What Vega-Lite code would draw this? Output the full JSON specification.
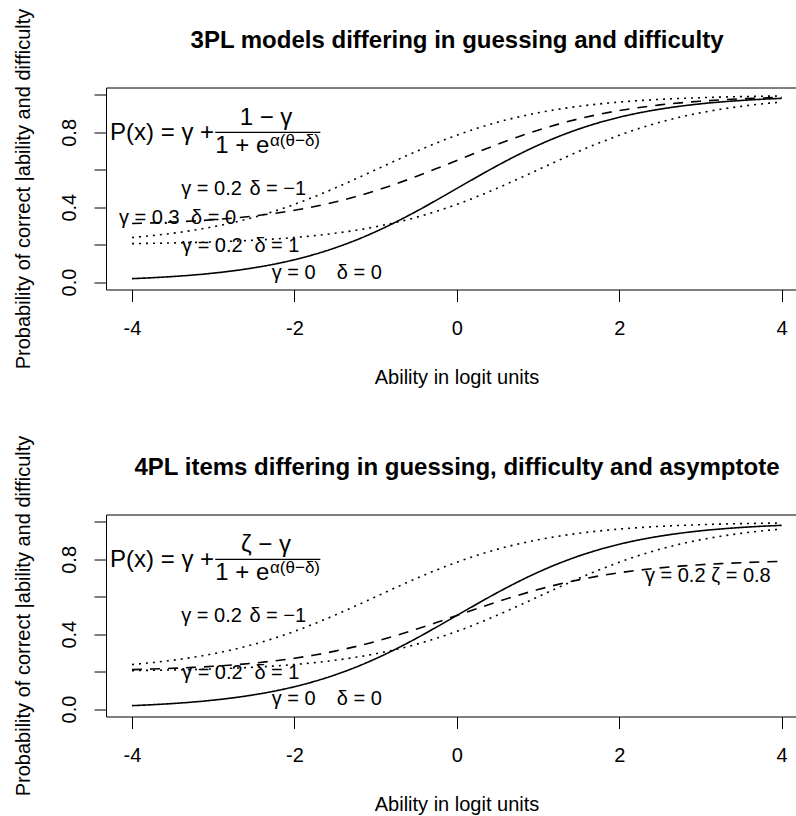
{
"$schema": "https://vega.github.io/schema/vega-lite/v6.json",
"background": "white",
"padding": {"left": 12, "top": 7.5, "right": 0, "bottom": 0},
"spacing": 225,
"bounds": "flush",
"config": {"view": {"stroke": null}, "font": "Liberation Sans", "text": {"font": "Liberation Sans", "color": "black"}},
"datasets": {
"c3": [
{"theta":-4,"p":0.0180,"curve":"γ=0 δ=0"},{"theta":-3.75,"p":0.0230,"curve":"γ=0 δ=0"},{"theta":-3.5,"p":0.0293,"curve":"γ=0 δ=0"},{"theta":-3.25,"p":0.0373,"curve":"γ=0 δ=0"},{"theta":-3,"p":0.0474,"curve":"γ=0 δ=0"},{"theta":-2.75,"p":0.0601,"curve":"γ=0 δ=0"},{"theta":-2.5,"p":0.0759,"curve":"γ=0 δ=0"},{"theta":-2.25,"p":0.0953,"curve":"γ=0 δ=0"},{"theta":-2,"p":0.1192,"curve":"γ=0 δ=0"},{"theta":-1.75,"p":0.1480,"curve":"γ=0 δ=0"},{"theta":-1.5,"p":0.1824,"curve":"γ=0 δ=0"},{"theta":-1.25,"p":0.2227,"curve":"γ=0 δ=0"},{"theta":-1,"p":0.2689,"curve":"γ=0 δ=0"},{"theta":-0.75,"p":0.3208,"curve":"γ=0 δ=0"},{"theta":-0.5,"p":0.3775,"curve":"γ=0 δ=0"},{"theta":-0.25,"p":0.4378,"curve":"γ=0 δ=0"},{"theta":0,"p":0.5,"curve":"γ=0 δ=0"},{"theta":0.25,"p":0.5622,"curve":"γ=0 δ=0"},{"theta":0.5,"p":0.6225,"curve":"γ=0 δ=0"},{"theta":0.75,"p":0.6792,"curve":"γ=0 δ=0"},{"theta":1,"p":0.7311,"curve":"γ=0 δ=0"},{"theta":1.25,"p":0.7773,"curve":"γ=0 δ=0"},{"theta":1.5,"p":0.8176,"curve":"γ=0 δ=0"},{"theta":1.75,"p":0.8520,"curve":"γ=0 δ=0"},{"theta":2,"p":0.8808,"curve":"γ=0 δ=0"},{"theta":2.25,"p":0.9047,"curve":"γ=0 δ=0"},{"theta":2.5,"p":0.9241,"curve":"γ=0 δ=0"},{"theta":2.75,"p":0.9399,"curve":"γ=0 δ=0"},{"theta":3,"p":0.9526,"curve":"γ=0 δ=0"},{"theta":3.25,"p":0.9627,"curve":"γ=0 δ=0"},{"theta":3.5,"p":0.9707,"curve":"γ=0 δ=0"},{"theta":3.75,"p":0.9770,"curve":"γ=0 δ=0"},{"theta":4,"p":0.9820,"curve":"γ=0 δ=0"},
{"theta":-4,"p":0.3126,"curve":"γ=0.3 δ=0"},{"theta":-3.75,"p":0.3161,"curve":"γ=0.3 δ=0"},{"theta":-3.5,"p":0.3205,"curve":"γ=0.3 δ=0"},{"theta":-3.25,"p":0.3261,"curve":"γ=0.3 δ=0"},{"theta":-3,"p":0.3332,"curve":"γ=0.3 δ=0"},{"theta":-2.75,"p":0.3421,"curve":"γ=0.3 δ=0"},{"theta":-2.5,"p":0.3531,"curve":"γ=0.3 δ=0"},{"theta":-2.25,"p":0.3667,"curve":"γ=0.3 δ=0"},{"theta":-2,"p":0.3834,"curve":"γ=0.3 δ=0"},{"theta":-1.75,"p":0.4036,"curve":"γ=0.3 δ=0"},{"theta":-1.5,"p":0.4277,"curve":"γ=0.3 δ=0"},{"theta":-1.25,"p":0.4559,"curve":"γ=0.3 δ=0"},{"theta":-1,"p":0.4883,"curve":"γ=0.3 δ=0"},{"theta":-0.75,"p":0.5246,"curve":"γ=0.3 δ=0"},{"theta":-0.5,"p":0.5643,"curve":"γ=0.3 δ=0"},{"theta":-0.25,"p":0.6065,"curve":"γ=0.3 δ=0"},{"theta":0,"p":0.65,"curve":"γ=0.3 δ=0"},{"theta":0.25,"p":0.6935,"curve":"γ=0.3 δ=0"},{"theta":0.5,"p":0.7357,"curve":"γ=0.3 δ=0"},{"theta":0.75,"p":0.7754,"curve":"γ=0.3 δ=0"},{"theta":1,"p":0.8117,"curve":"γ=0.3 δ=0"},{"theta":1.25,"p":0.8441,"curve":"γ=0.3 δ=0"},{"theta":1.5,"p":0.8723,"curve":"γ=0.3 δ=0"},{"theta":1.75,"p":0.8964,"curve":"γ=0.3 δ=0"},{"theta":2,"p":0.9166,"curve":"γ=0.3 δ=0"},{"theta":2.25,"p":0.9333,"curve":"γ=0.3 δ=0"},{"theta":2.5,"p":0.9469,"curve":"γ=0.3 δ=0"},{"theta":2.75,"p":0.9579,"curve":"γ=0.3 δ=0"},{"theta":3,"p":0.9668,"curve":"γ=0.3 δ=0"},{"theta":3.25,"p":0.9739,"curve":"γ=0.3 δ=0"},{"theta":3.5,"p":0.9795,"curve":"γ=0.3 δ=0"},{"theta":3.75,"p":0.9839,"curve":"γ=0.3 δ=0"},{"theta":4,"p":0.9874,"curve":"γ=0.3 δ=0"},
{"theta":-4,"p":0.2379,"curve":"γ=0.2 δ=-1"},{"theta":-3.75,"p":0.2481,"curve":"γ=0.2 δ=-1"},{"theta":-3.5,"p":0.2607,"curve":"γ=0.2 δ=-1"},{"theta":-3.25,"p":0.2763,"curve":"γ=0.2 δ=-1"},{"theta":-3,"p":0.2954,"curve":"γ=0.2 δ=-1"},{"theta":-2.75,"p":0.3184,"curve":"γ=0.2 δ=-1"},{"theta":-2.5,"p":0.3459,"curve":"γ=0.2 δ=-1"},{"theta":-2.25,"p":0.3782,"curve":"γ=0.2 δ=-1"},{"theta":-2,"p":0.4152,"curve":"γ=0.2 δ=-1"},{"theta":-1.75,"p":0.4567,"curve":"γ=0.2 δ=-1"},{"theta":-1.5,"p":0.5020,"curve":"γ=0.2 δ=-1"},{"theta":-1.25,"p":0.5503,"curve":"γ=0.2 δ=-1"},{"theta":-1,"p":0.6,"curve":"γ=0.2 δ=-1"},{"theta":-0.75,"p":0.6497,"curve":"γ=0.2 δ=-1"},{"theta":-0.5,"p":0.6980,"curve":"γ=0.2 δ=-1"},{"theta":-0.25,"p":0.7433,"curve":"γ=0.2 δ=-1"},{"theta":0,"p":0.7848,"curve":"γ=0.2 δ=-1"},{"theta":0.25,"p":0.8218,"curve":"γ=0.2 δ=-1"},{"theta":0.5,"p":0.8541,"curve":"γ=0.2 δ=-1"},{"theta":0.75,"p":0.8816,"curve":"γ=0.2 δ=-1"},{"theta":1,"p":0.9046,"curve":"γ=0.2 δ=-1"},{"theta":1.25,"p":0.9237,"curve":"γ=0.2 δ=-1"},{"theta":1.5,"p":0.9393,"curve":"γ=0.2 δ=-1"},{"theta":1.75,"p":0.9519,"curve":"γ=0.2 δ=-1"},{"theta":2,"p":0.9621,"curve":"γ=0.2 δ=-1"},{"theta":2.25,"p":0.9701,"curve":"γ=0.2 δ=-1"},{"theta":2.5,"p":0.9766,"curve":"γ=0.2 δ=-1"},{"theta":2.75,"p":0.9816,"curve":"γ=0.2 δ=-1"},{"theta":3,"p":0.9856,"curve":"γ=0.2 δ=-1"},{"theta":3.25,"p":0.9887,"curve":"γ=0.2 δ=-1"},{"theta":3.5,"p":0.9912,"curve":"γ=0.2 δ=-1"},{"theta":3.75,"p":0.9931,"curve":"γ=0.2 δ=-1"},{"theta":4,"p":0.9946,"curve":"γ=0.2 δ=-1"},
{"theta":-4,"p":0.2054,"curve":"γ=0.2 δ=1"},{"theta":-3.75,"p":0.2069,"curve":"γ=0.2 δ=1"},{"theta":-3.5,"p":0.2088,"curve":"γ=0.2 δ=1"},{"theta":-3.25,"p":0.2113,"curve":"γ=0.2 δ=1"},{"theta":-3,"p":0.2144,"curve":"γ=0.2 δ=1"},{"theta":-2.75,"p":0.2184,"curve":"γ=0.2 δ=1"},{"theta":-2.5,"p":0.2234,"curve":"γ=0.2 δ=1"},{"theta":-2.25,"p":0.2299,"curve":"γ=0.2 δ=1"},{"theta":-2,"p":0.2379,"curve":"γ=0.2 δ=1"},{"theta":-1.75,"p":0.2481,"curve":"γ=0.2 δ=1"},{"theta":-1.5,"p":0.2607,"curve":"γ=0.2 δ=1"},{"theta":-1.25,"p":0.2763,"curve":"γ=0.2 δ=1"},{"theta":-1,"p":0.2954,"curve":"γ=0.2 δ=1"},{"theta":-0.75,"p":0.3184,"curve":"γ=0.2 δ=1"},{"theta":-0.5,"p":0.3459,"curve":"γ=0.2 δ=1"},{"theta":-0.25,"p":0.3782,"curve":"γ=0.2 δ=1"},{"theta":0,"p":0.4152,"curve":"γ=0.2 δ=1"},{"theta":0.25,"p":0.4567,"curve":"γ=0.2 δ=1"},{"theta":0.5,"p":0.5020,"curve":"γ=0.2 δ=1"},{"theta":0.75,"p":0.5503,"curve":"γ=0.2 δ=1"},{"theta":1,"p":0.6,"curve":"γ=0.2 δ=1"},{"theta":1.25,"p":0.6497,"curve":"γ=0.2 δ=1"},{"theta":1.5,"p":0.6980,"curve":"γ=0.2 δ=1"},{"theta":1.75,"p":0.7433,"curve":"γ=0.2 δ=1"},{"theta":2,"p":0.7848,"curve":"γ=0.2 δ=1"},{"theta":2.25,"p":0.8218,"curve":"γ=0.2 δ=1"},{"theta":2.5,"p":0.8541,"curve":"γ=0.2 δ=1"},{"theta":2.75,"p":0.8816,"curve":"γ=0.2 δ=1"},{"theta":3,"p":0.9046,"curve":"γ=0.2 δ=1"},{"theta":3.25,"p":0.9237,"curve":"γ=0.2 δ=1"},{"theta":3.5,"p":0.9393,"curve":"γ=0.2 δ=1"},{"theta":3.75,"p":0.9519,"curve":"γ=0.2 δ=1"},{"theta":4,"p":0.9621,"curve":"γ=0.2 δ=1"}
],
"c4": [
{"theta":-4,"p":0.0180,"curve":"γ=0 δ=0"},{"theta":-3.75,"p":0.0230,"curve":"γ=0 δ=0"},{"theta":-3.5,"p":0.0293,"curve":"γ=0 δ=0"},{"theta":-3.25,"p":0.0373,"curve":"γ=0 δ=0"},{"theta":-3,"p":0.0474,"curve":"γ=0 δ=0"},{"theta":-2.75,"p":0.0601,"curve":"γ=0 δ=0"},{"theta":-2.5,"p":0.0759,"curve":"γ=0 δ=0"},{"theta":-2.25,"p":0.0953,"curve":"γ=0 δ=0"},{"theta":-2,"p":0.1192,"curve":"γ=0 δ=0"},{"theta":-1.75,"p":0.1480,"curve":"γ=0 δ=0"},{"theta":-1.5,"p":0.1824,"curve":"γ=0 δ=0"},{"theta":-1.25,"p":0.2227,"curve":"γ=0 δ=0"},{"theta":-1,"p":0.2689,"curve":"γ=0 δ=0"},{"theta":-0.75,"p":0.3208,"curve":"γ=0 δ=0"},{"theta":-0.5,"p":0.3775,"curve":"γ=0 δ=0"},{"theta":-0.25,"p":0.4378,"curve":"γ=0 δ=0"},{"theta":0,"p":0.5,"curve":"γ=0 δ=0"},{"theta":0.25,"p":0.5622,"curve":"γ=0 δ=0"},{"theta":0.5,"p":0.6225,"curve":"γ=0 δ=0"},{"theta":0.75,"p":0.6792,"curve":"γ=0 δ=0"},{"theta":1,"p":0.7311,"curve":"γ=0 δ=0"},{"theta":1.25,"p":0.7773,"curve":"γ=0 δ=0"},{"theta":1.5,"p":0.8176,"curve":"γ=0 δ=0"},{"theta":1.75,"p":0.8520,"curve":"γ=0 δ=0"},{"theta":2,"p":0.8808,"curve":"γ=0 δ=0"},{"theta":2.25,"p":0.9047,"curve":"γ=0 δ=0"},{"theta":2.5,"p":0.9241,"curve":"γ=0 δ=0"},{"theta":2.75,"p":0.9399,"curve":"γ=0 δ=0"},{"theta":3,"p":0.9526,"curve":"γ=0 δ=0"},{"theta":3.25,"p":0.9627,"curve":"γ=0 δ=0"},{"theta":3.5,"p":0.9707,"curve":"γ=0 δ=0"},{"theta":3.75,"p":0.9770,"curve":"γ=0 δ=0"},{"theta":4,"p":0.9820,"curve":"γ=0 δ=0"},
{"theta":-4,"p":0.2108,"curve":"γ=0.2 ζ=0.8"},{"theta":-3.75,"p":0.2138,"curve":"γ=0.2 ζ=0.8"},{"theta":-3.5,"p":0.2176,"curve":"γ=0.2 ζ=0.8"},{"theta":-3.25,"p":0.2224,"curve":"γ=0.2 ζ=0.8"},{"theta":-3,"p":0.2285,"curve":"γ=0.2 ζ=0.8"},{"theta":-2.75,"p":0.2361,"curve":"γ=0.2 ζ=0.8"},{"theta":-2.5,"p":0.2455,"curve":"γ=0.2 ζ=0.8"},{"theta":-2.25,"p":0.2572,"curve":"γ=0.2 ζ=0.8"},{"theta":-2,"p":0.2715,"curve":"γ=0.2 ζ=0.8"},{"theta":-1.75,"p":0.2888,"curve":"γ=0.2 ζ=0.8"},{"theta":-1.5,"p":0.3095,"curve":"γ=0.2 ζ=0.8"},{"theta":-1.25,"p":0.3336,"curve":"γ=0.2 ζ=0.8"},{"theta":-1,"p":0.3614,"curve":"γ=0.2 ζ=0.8"},{"theta":-0.75,"p":0.3925,"curve":"γ=0.2 ζ=0.8"},{"theta":-0.5,"p":0.4265,"curve":"γ=0.2 ζ=0.8"},{"theta":-0.25,"p":0.4627,"curve":"γ=0.2 ζ=0.8"},{"theta":0,"p":0.5,"curve":"γ=0.2 ζ=0.8"},{"theta":0.25,"p":0.5373,"curve":"γ=0.2 ζ=0.8"},{"theta":0.5,"p":0.5735,"curve":"γ=0.2 ζ=0.8"},{"theta":0.75,"p":0.6075,"curve":"γ=0.2 ζ=0.8"},{"theta":1,"p":0.6386,"curve":"γ=0.2 ζ=0.8"},{"theta":1.25,"p":0.6664,"curve":"γ=0.2 ζ=0.8"},{"theta":1.5,"p":0.6905,"curve":"γ=0.2 ζ=0.8"},{"theta":1.75,"p":0.7112,"curve":"γ=0.2 ζ=0.8"},{"theta":2,"p":0.7285,"curve":"γ=0.2 ζ=0.8"},{"theta":2.25,"p":0.7428,"curve":"γ=0.2 ζ=0.8"},{"theta":2.5,"p":0.7545,"curve":"γ=0.2 ζ=0.8"},{"theta":2.75,"p":0.7639,"curve":"γ=0.2 ζ=0.8"},{"theta":3,"p":0.7715,"curve":"γ=0.2 ζ=0.8"},{"theta":3.25,"p":0.7776,"curve":"γ=0.2 ζ=0.8"},{"theta":3.5,"p":0.7824,"curve":"γ=0.2 ζ=0.8"},{"theta":3.75,"p":0.7862,"curve":"γ=0.2 ζ=0.8"},{"theta":4,"p":0.7892,"curve":"γ=0.2 ζ=0.8"},
{"theta":-4,"p":0.2379,"curve":"γ=0.2 δ=-1"},{"theta":-3.75,"p":0.2481,"curve":"γ=0.2 δ=-1"},{"theta":-3.5,"p":0.2607,"curve":"γ=0.2 δ=-1"},{"theta":-3.25,"p":0.2763,"curve":"γ=0.2 δ=-1"},{"theta":-3,"p":0.2954,"curve":"γ=0.2 δ=-1"},{"theta":-2.75,"p":0.3184,"curve":"γ=0.2 δ=-1"},{"theta":-2.5,"p":0.3459,"curve":"γ=0.2 δ=-1"},{"theta":-2.25,"p":0.3782,"curve":"γ=0.2 δ=-1"},{"theta":-2,"p":0.4152,"curve":"γ=0.2 δ=-1"},{"theta":-1.75,"p":0.4567,"curve":"γ=0.2 δ=-1"},{"theta":-1.5,"p":0.5020,"curve":"γ=0.2 δ=-1"},{"theta":-1.25,"p":0.5503,"curve":"γ=0.2 δ=-1"},{"theta":-1,"p":0.6,"curve":"γ=0.2 δ=-1"},{"theta":-0.75,"p":0.6497,"curve":"γ=0.2 δ=-1"},{"theta":-0.5,"p":0.6980,"curve":"γ=0.2 δ=-1"},{"theta":-0.25,"p":0.7433,"curve":"γ=0.2 δ=-1"},{"theta":0,"p":0.7848,"curve":"γ=0.2 δ=-1"},{"theta":0.25,"p":0.8218,"curve":"γ=0.2 δ=-1"},{"theta":0.5,"p":0.8541,"curve":"γ=0.2 δ=-1"},{"theta":0.75,"p":0.8816,"curve":"γ=0.2 δ=-1"},{"theta":1,"p":0.9046,"curve":"γ=0.2 δ=-1"},{"theta":1.25,"p":0.9237,"curve":"γ=0.2 δ=-1"},{"theta":1.5,"p":0.9393,"curve":"γ=0.2 δ=-1"},{"theta":1.75,"p":0.9519,"curve":"γ=0.2 δ=-1"},{"theta":2,"p":0.9621,"curve":"γ=0.2 δ=-1"},{"theta":2.25,"p":0.9701,"curve":"γ=0.2 δ=-1"},{"theta":2.5,"p":0.9766,"curve":"γ=0.2 δ=-1"},{"theta":2.75,"p":0.9816,"curve":"γ=0.2 δ=-1"},{"theta":3,"p":0.9856,"curve":"γ=0.2 δ=-1"},{"theta":3.25,"p":0.9887,"curve":"γ=0.2 δ=-1"},{"theta":3.5,"p":0.9912,"curve":"γ=0.2 δ=-1"},{"theta":3.75,"p":0.9931,"curve":"γ=0.2 δ=-1"},{"theta":4,"p":0.9946,"curve":"γ=0.2 δ=-1"},
{"theta":-4,"p":0.2054,"curve":"γ=0.2 δ=1"},{"theta":-3.75,"p":0.2069,"curve":"γ=0.2 δ=1"},{"theta":-3.5,"p":0.2088,"curve":"γ=0.2 δ=1"},{"theta":-3.25,"p":0.2113,"curve":"γ=0.2 δ=1"},{"theta":-3,"p":0.2144,"curve":"γ=0.2 δ=1"},{"theta":-2.75,"p":0.2184,"curve":"γ=0.2 δ=1"},{"theta":-2.5,"p":0.2234,"curve":"γ=0.2 δ=1"},{"theta":-2.25,"p":0.2299,"curve":"γ=0.2 δ=1"},{"theta":-2,"p":0.2379,"curve":"γ=0.2 δ=1"},{"theta":-1.75,"p":0.2481,"curve":"γ=0.2 δ=1"},{"theta":-1.5,"p":0.2607,"curve":"γ=0.2 δ=1"},{"theta":-1.25,"p":0.2763,"curve":"γ=0.2 δ=1"},{"theta":-1,"p":0.2954,"curve":"γ=0.2 δ=1"},{"theta":-0.75,"p":0.3184,"curve":"γ=0.2 δ=1"},{"theta":-0.5,"p":0.3459,"curve":"γ=0.2 δ=1"},{"theta":-0.25,"p":0.3782,"curve":"γ=0.2 δ=1"},{"theta":0,"p":0.4152,"curve":"γ=0.2 δ=1"},{"theta":0.25,"p":0.4567,"curve":"γ=0.2 δ=1"},{"theta":0.5,"p":0.5020,"curve":"γ=0.2 δ=1"},{"theta":0.75,"p":0.5503,"curve":"γ=0.2 δ=1"},{"theta":1,"p":0.6,"curve":"γ=0.2 δ=1"},{"theta":1.25,"p":0.6497,"curve":"γ=0.2 δ=1"},{"theta":1.5,"p":0.6980,"curve":"γ=0.2 δ=1"},{"theta":1.75,"p":0.7433,"curve":"γ=0.2 δ=1"},{"theta":2,"p":0.7848,"curve":"γ=0.2 δ=1"},{"theta":2.25,"p":0.8218,"curve":"γ=0.2 δ=1"},{"theta":2.5,"p":0.8541,"curve":"γ=0.2 δ=1"},{"theta":2.75,"p":0.8816,"curve":"γ=0.2 δ=1"},{"theta":3,"p":0.9046,"curve":"γ=0.2 δ=1"},{"theta":3.25,"p":0.9237,"curve":"γ=0.2 δ=1"},{"theta":3.5,"p":0.9393,"curve":"γ=0.2 δ=1"},{"theta":3.75,"p":0.9519,"curve":"γ=0.2 δ=1"},{"theta":4,"p":0.9621,"curve":"γ=0.2 δ=1"}
],
"lab3": [
{"theta":-3.02,"p":0.495,"label":"γ = 0.2"},{"theta":-2.205,"p":0.495,"label":"δ = −1"},
{"theta":-3.786,"p":0.34,"label":"γ = 0.3"},{"theta":-2.995,"p":0.34,"label":"δ = 0"},
{"theta":-3.01,"p":0.19,"label":"γ = 0.2"},{"theta":-2.215,"p":0.19,"label":"δ = 1"},
{"theta":-2.01,"p":0.05,"label":"γ = 0"},{"theta":-1.2,"p":0.05,"label":"δ = 0"}
],
"lab4": [
{"theta":-3.02,"p":0.5,"label":"γ = 0.2"},{"theta":-2.205,"p":0.5,"label":"δ = −1"},
{"theta":-3.01,"p":0.195,"label":"γ = 0.2"},{"theta":-2.215,"p":0.195,"label":"δ = 1"},
{"theta":-2.01,"p":0.055,"label":"γ = 0"},{"theta":-1.2,"p":0.055,"label":"δ = 0"},
{"theta":2.69,"p":0.71,"label":"γ = 0.2"},{"theta":3.5,"p":0.71,"label":"ζ = 0.8"}
],
"fmain": [{"theta":-4.27,"p":0.76,"label":"P(x) = γ +"}],
"fden": [{"theta":-2.975,"p":0.688,"label":"1 + e"}],
"fsup": [{"theta":-2.3,"p":0.725,"label":"α(θ−δ)"}],
"fnum3": [{"theta":-2.35,"p":0.84,"label":"1 − γ"}],
"fnum4": [{"theta":-2.35,"p":0.84,"label":"ζ − γ"}],
"fbar": [{"theta":-2.975,"theta2":-1.68,"p":0.8}]
},
"vconcat": [
{
"width": 690, "height": 202,
"resolve": {"axis": {"x": "independent"}},
"layer": [
{"data": {"name": "c3"}, "mark": {"type": "line", "color": "black", "strokeWidth": 1.6, "interpolate": "monotone"},
 "encoding": {
  "x": {"field": "theta", "type": "quantitative", "scale": {"domain": [-4.32, 4.177], "nice": false, "zero": false},
   "axis": {"title": "Ability in logit units", "values": [-4,-2,0,2,4], "grid": false, "tickSize": 12, "labelPadding": 32.7, "labelBaseline": "alphabetic", "labelFontSize": 20, "labelFont": "Liberation Sans", "labelColor": "black", "labelExpr": "'' + datum.value", "labelFlush": false, "labelOverlap": false, "domainColor": "black", "tickColor": "black", "titleFont": "Liberation Sans", "titleFontSize": 20, "titleFontWeight": "normal", "titleColor": "black", "titleBaseline": "alphabetic", "titleAlign": "center", "titleX": 350.5, "titleY": 94}},
  "y": {"field": "p", "type": "quantitative", "scale": {"domain": [-0.04, 1.04], "nice": false, "zero": false},
   "axis": {"title": "Probability of correct |ability and difficulty", "values": [0,0.2,0.4,0.6,0.8,1], "grid": false, "tickSize": 12, "labelAngle": 270, "labelAlign": "center", "labelBaseline": "alphabetic", "labelPadding": 19, "labelFontSize": 20, "labelFont": "Liberation Sans", "labelColor": "black", "labelExpr": "(datum.value < 0.01 || abs(datum.value - 0.4) < 0.01 || abs(datum.value - 0.8) < 0.01) ? format(datum.value, '.1f') : ''", "labelFlush": false, "labelOverlap": false, "domainColor": "black", "tickColor": "black", "titleFont": "Liberation Sans", "titleFontSize": 20, "titleFontWeight": "normal", "titleColor": "black", "titleAngle": 270, "titleBaseline": "alphabetic", "titleAlign": "center", "titleX": -77, "titleY": 101}},
  "strokeDash": {"field": "curve", "type": "nominal", "scale": {"domain": ["γ=0 δ=0", "γ=0.3 δ=0", "γ=0.2 ζ=0.8", "γ=0.2 δ=-1", "γ=0.2 δ=1"], "range": [[1,0],[10,8],[10,8],[2,5],[2,5]]}, "legend": null}
 }},
{"data": {"name": "lab3"}, "mark": {"type": "text", "fontSize": 20, "align": "center", "baseline": "middle", "font": "Liberation Sans", "color": "black"},
 "encoding": {"x": {"field": "theta", "type": "quantitative",
   "axis": {"orient": "top", "title": "3PL models differing in guessing and difficulty", "ticks": false, "labels": false, "grid": false, "domain": true, "domainColor": "black", "titleFont": "Liberation Sans", "titleFontSize": 24, "titleFontWeight": "bold", "titleColor": "black", "titleBaseline": "alphabetic", "titleAlign": "center", "titleX": 350.5, "titleY": -40}},
  "y": {"field": "p", "type": "quantitative", "title": "Probability of correct |ability and difficulty"}, "text": {"field": "label"}}},
{"data": {"name": "fmain"}, "mark": {"type": "text", "fontSize": 24, "align": "left", "baseline": "alphabetic", "font": "Liberation Sans", "color": "black"},
 "encoding": {"x": {"field": "theta", "type": "quantitative", "axis": null}, "y": {"field": "p", "type": "quantitative", "title": "Probability of correct |ability and difficulty"}, "text": {"field": "label"}}},
{"data": {"name": "fnum3"}, "mark": {"type": "text", "fontSize": 24, "align": "center", "baseline": "alphabetic", "font": "Liberation Sans", "color": "black"},
 "encoding": {"x": {"field": "theta", "type": "quantitative", "axis": null}, "y": {"field": "p", "type": "quantitative", "title": "Probability of correct |ability and difficulty"}, "text": {"field": "label"}}},
{"data": {"name": "fden"}, "mark": {"type": "text", "fontSize": 24, "align": "left", "baseline": "alphabetic", "font": "Liberation Sans", "color": "black"},
 "encoding": {"x": {"field": "theta", "type": "quantitative", "axis": null}, "y": {"field": "p", "type": "quantitative", "title": "Probability of correct |ability and difficulty"}, "text": {"field": "label"}}},
{"data": {"name": "fsup"}, "mark": {"type": "text", "fontSize": 17, "align": "left", "baseline": "alphabetic", "font": "Liberation Sans", "color": "black"},
 "encoding": {"x": {"field": "theta", "type": "quantitative", "axis": null}, "y": {"field": "p", "type": "quantitative", "title": "Probability of correct |ability and difficulty"}, "text": {"field": "label"}}},
{"data": {"name": "fbar"}, "mark": {"type": "rule", "color": "black", "strokeWidth": 1.2},
 "encoding": {"x": {"field": "theta", "type": "quantitative", "axis": null}, "x2": {"field": "theta2"}, "y": {"field": "p", "type": "quantitative", "title": "Probability of correct |ability and difficulty"}}}
]
},
{
"width": 690, "height": 202,
"resolve": {"axis": {"x": "independent"}},
"layer": [
{"data": {"name": "c4"}, "mark": {"type": "line", "color": "black", "strokeWidth": 1.6, "interpolate": "monotone"},
 "encoding": {
  "x": {"field": "theta", "type": "quantitative", "scale": {"domain": [-4.32, 4.177], "nice": false, "zero": false},
   "axis": {"title": "Ability in logit units", "values": [-4,-2,0,2,4], "grid": false, "tickSize": 12, "labelPadding": 32.7, "labelBaseline": "alphabetic", "labelFontSize": 20, "labelFont": "Liberation Sans", "labelColor": "black", "labelExpr": "'' + datum.value", "labelFlush": false, "labelOverlap": false, "domainColor": "black", "tickColor": "black", "titleFont": "Liberation Sans", "titleFontSize": 20, "titleFontWeight": "normal", "titleColor": "black", "titleBaseline": "alphabetic", "titleAlign": "center", "titleX": 350.5, "titleY": 94}},
  "y": {"field": "p", "type": "quantitative", "scale": {"domain": [-0.04, 1.04], "nice": false, "zero": false},
   "axis": {"title": "Probability of correct |ability and difficulty", "values": [0,0.2,0.4,0.6,0.8,1], "grid": false, "tickSize": 12, "labelAngle": 270, "labelAlign": "center", "labelBaseline": "alphabetic", "labelPadding": 19, "labelFontSize": 20, "labelFont": "Liberation Sans", "labelColor": "black", "labelExpr": "(datum.value < 0.01 || abs(datum.value - 0.4) < 0.01 || abs(datum.value - 0.8) < 0.01) ? format(datum.value, '.1f') : ''", "labelFlush": false, "labelOverlap": false, "domainColor": "black", "tickColor": "black", "titleFont": "Liberation Sans", "titleFontSize": 20, "titleFontWeight": "normal", "titleColor": "black", "titleAngle": 270, "titleBaseline": "alphabetic", "titleAlign": "center", "titleX": -77, "titleY": 101}},
  "strokeDash": {"field": "curve", "type": "nominal", "scale": {"domain": ["γ=0 δ=0", "γ=0.3 δ=0", "γ=0.2 ζ=0.8", "γ=0.2 δ=-1", "γ=0.2 δ=1"], "range": [[1,0],[10,8],[10,8],[2,5],[2,5]]}, "legend": null}
 }},
{"data": {"name": "lab4"}, "mark": {"type": "text", "fontSize": 20, "align": "center", "baseline": "middle", "font": "Liberation Sans", "color": "black"},
 "encoding": {"x": {"field": "theta", "type": "quantitative",
   "axis": {"orient": "top", "title": "4PL items differing in guessing, difficulty and asymptote", "ticks": false, "labels": false, "grid": false, "domain": true, "domainColor": "black", "titleFont": "Liberation Sans", "titleFontSize": 24, "titleFontWeight": "bold", "titleColor": "black", "titleBaseline": "alphabetic", "titleAlign": "center", "titleX": 350.5, "titleY": -40}},
  "y": {"field": "p", "type": "quantitative", "title": "Probability of correct |ability and difficulty"}, "text": {"field": "label"}}},
{"data": {"name": "fmain"}, "mark": {"type": "text", "fontSize": 24, "align": "left", "baseline": "alphabetic", "font": "Liberation Sans", "color": "black"},
 "encoding": {"x": {"field": "theta", "type": "quantitative", "axis": null}, "y": {"field": "p", "type": "quantitative", "title": "Probability of correct |ability and difficulty"}, "text": {"field": "label"}}},
{"data": {"name": "fnum4"}, "mark": {"type": "text", "fontSize": 24, "align": "center", "baseline": "alphabetic", "font": "Liberation Sans", "color": "black"},
 "encoding": {"x": {"field": "theta", "type": "quantitative", "axis": null}, "y": {"field": "p", "type": "quantitative", "title": "Probability of correct |ability and difficulty"}, "text": {"field": "label"}}},
{"data": {"name": "fden"}, "mark": {"type": "text", "fontSize": 24, "align": "left", "baseline": "alphabetic", "font": "Liberation Sans", "color": "black"},
 "encoding": {"x": {"field": "theta", "type": "quantitative", "axis": null}, "y": {"field": "p", "type": "quantitative", "title": "Probability of correct |ability and difficulty"}, "text": {"field": "label"}}},
{"data": {"name": "fsup"}, "mark": {"type": "text", "fontSize": 17, "align": "left", "baseline": "alphabetic", "font": "Liberation Sans", "color": "black"},
 "encoding": {"x": {"field": "theta", "type": "quantitative", "axis": null}, "y": {"field": "p", "type": "quantitative", "title": "Probability of correct |ability and difficulty"}, "text": {"field": "label"}}},
{"data": {"name": "fbar"}, "mark": {"type": "rule", "color": "black", "strokeWidth": 1.2},
 "encoding": {"x": {"field": "theta", "type": "quantitative", "axis": null}, "x2": {"field": "theta2"}, "y": {"field": "p", "type": "quantitative", "title": "Probability of correct |ability and difficulty"}}}
]
}
]
}
